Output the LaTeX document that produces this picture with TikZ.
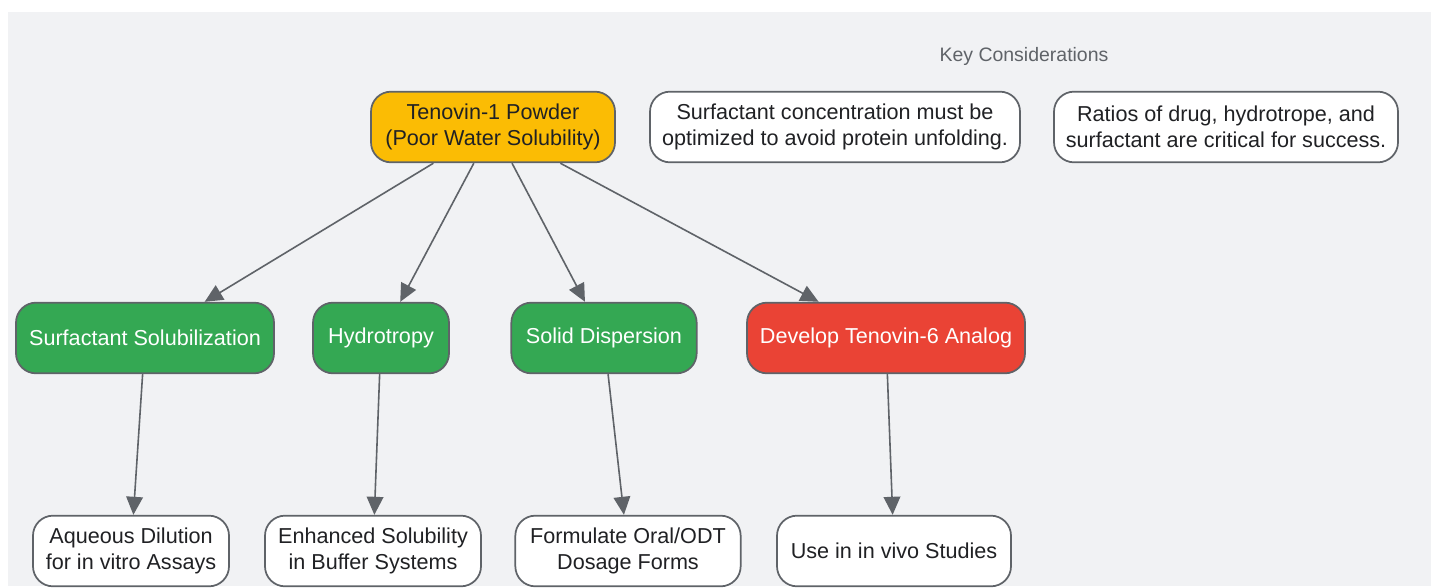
\documentclass[tikz,border=0pt]{standalone}
\usepackage{fontspec}
\setmainfont{Liberation Sans}
\usetikzlibrary{arrows.meta}
\definecolor{bggray}{HTML}{F1F2F4}
\definecolor{edgegray}{HTML}{5F6368}
\definecolor{txtdark}{HTML}{202124}
\definecolor{gyellow}{HTML}{FBBC04}
\definecolor{ggreen}{HTML}{34A853}
\definecolor{gred}{HTML}{EA4335}
\tikzset{
  box/.style={draw=edgegray, line width=1.3pt, rounded corners=15pt, align=center,
    minimum height=53pt, inner sep=0pt, font=\fontsize{16.2}{19.5}\selectfont, text=txtdark},
  start/.style={box, fill=gyellow},
  method/.style={box, fill=ggreen, text=white},
  alt/.style={box, fill=gred, text=white},
  result/.style={box, fill=white},
  note/.style={box, fill=white},
  link/.style={draw=edgegray, line width=1.2pt, -{Triangle[length=13.5pt,width=12.5pt]}}
}
\begin{document}
\begin{tikzpicture}[x=0.75pt, y=-0.75pt]
\useasboundingbox (0,0) rectangle (1431,588);
\fill[bggray] (8,12) rectangle (1431,586);

% Define nodes

\node[start, minimum width=183pt]  (powder) at (493,127) {Tenovin-1 Powder\\(Poor Water Solubility)};

\node[font=\fontsize{14.6}{16}\selectfont, text=edgegray] (keytitle) at (1024,56) {Key Considerations};
\node[note, minimum width=277.5pt] (noteconc) at (835,127) {Surfactant concentration must be\\optimized to avoid protein unfolding.};
\node[note, minimum width=258pt]   (noteratio) at (1226,127) {Ratios of drug, hydrotrope, and\\surfactant are critical for success.};

\node[method, minimum width=193.5pt] (surfsol) at (145,338) {Surfactant Solubilization};
\node[method, minimum width=102pt]   (hydro) at (381,338) {Hydrotropy};
\node[method, minimum width=139pt]   (soliddisp) at (604,338) {Solid Dispersion};
\node[alt, minimum width=208.5pt]    (analog) at (886,338) {Develop Tenovin-6 Analog};

\node[result, minimum width=147pt]   (dilution) at (131,551) {Aqueous Dilution\\for in vitro Assays};
\node[result, minimum width=162pt]   (buffer) at (373,551) {Enhanced Solubility\\in Buffer Systems};
\node[result, minimum width=169pt]   (oral) at (628,551) {Formulate Oral/ODT\\Dosage Forms};
\node[result, minimum width=175.5pt] (invivo) at (894,551) {Use in in vivo Studies};

% Connect the nodes
\draw[link] (powder) -- (surfsol);
\draw[link] (powder) -- (hydro);
\draw[link] (powder) -- (soliddisp);
\draw[link] (powder) -- (analog);

\draw[link] (surfsol) -- (dilution);
\draw[link] (hydro) -- (buffer);
\draw[link] (soliddisp) -- (oral);
\draw[link] (analog) -- (invivo);

\end{tikzpicture}
\end{document}
